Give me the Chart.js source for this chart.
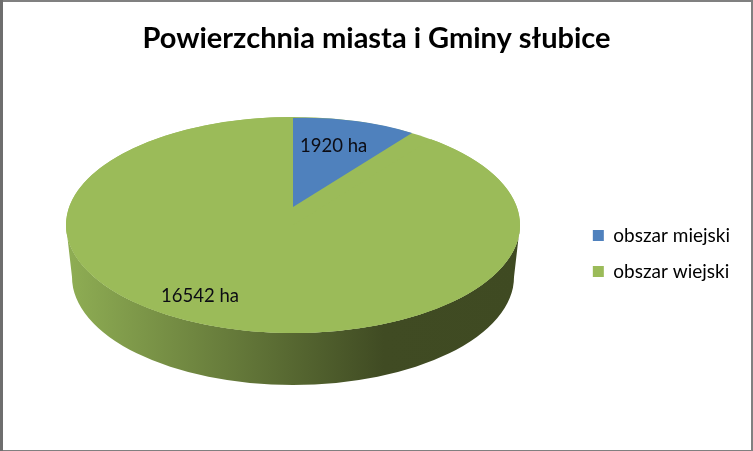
<!DOCTYPE html>
<html>
<head>
<meta charset="utf-8">
<style>html,body{margin:0;padding:0;background:#fff}canvas{display:block}</style>
<script src="https://cdn.jsdelivr.net/npm/chart.js@4"></script>
</head>
<body>
<canvas id="c" width="753" height="451"></canvas>
<script>
const categories = ['obszar miejski', 'obszar wiejski'];
const values = [1920, 16542];
const unit = ' ha';
const colors = ['#4F81BD', '#9BBB59'];
const titleText = 'Powierzchnia miasta i Gminy słubice';

const FONT = 'Lato, Carlito, Calibri, sans-serif';
// Perspective view of the disc, in page pixels
const top3d = {cx: 293, cy: 225, rx: 227, ry: 108};
const bottom3d = {cx: 293, cy: 277, rx: 221, ry: 108};
const apex = {x: 293, y: 207};
const firstTop = {x: 293, y: 118};
const firstEnd = {x: 412, y: 133};
const labelAt = [{x: 300, y: 146}, {x: 161, y: 296}];

function drawMapped(ctx, el, tx, ty, a, b, c, d) {
  const R = el.outerRadius;
  ctx.save();
  ctx.translate(tx, ty);
  ctx.transform(a, b, c, d, 0, 0);
  ctx.scale(1 / R, 1 / R);
  ctx.translate(-el.x, -el.y);
  el.draw(ctx);
  ctx.restore();
}

const pie3d = {
  id: 'pie3d',
  beforeDraw(chart) {
    const {ctx, width, height} = chart;
    ctx.save();
    ctx.fillStyle = '#fff';
    ctx.fillRect(0, 0, width, height);
    ctx.fillStyle = '#808080';
    ctx.fillRect(0, 0, width, 2);
    ctx.fillRect(0, height - 1, width, 1);
    ctx.fillRect(width - 2, 0, 2, height);
    ctx.fillStyle = '#6e6e6e';
    ctx.fillRect(0, 0, 3, height);
    ctx.restore();
  },
  beforeDatasetsDraw(chart) {
    const {ctx} = chart;
    const els = chart.getDatasetMeta(0).data;
    // Wall
    ctx.save();
    const g = ctx.createLinearGradient(top3d.cx - top3d.rx, 0, top3d.cx + top3d.rx, 0);
    g.addColorStop(0, '#8FAE54');
    g.addColorStop(0.70, '#404B23');
    g.addColorStop(1, '#3F4A22');
    ctx.fillStyle = g;
    ctx.beginPath();
    ctx.ellipse(top3d.cx, top3d.cy, top3d.rx, top3d.ry, 0, Math.PI, 0, true);
    ctx.lineTo(bottom3d.cx + bottom3d.rx, bottom3d.cy);
    ctx.ellipse(bottom3d.cx, bottom3d.cy, bottom3d.rx, bottom3d.ry, 0, 0, Math.PI, false);
    ctx.closePath();
    ctx.fill();
    // Top face base
    ctx.fillStyle = colors[1];
    ctx.beginPath();
    ctx.ellipse(top3d.cx, top3d.cy, top3d.rx, top3d.ry, 0, 0, Math.PI * 2);
    ctx.fill();
    ctx.restore();
    // Large slice on the disc's own ellipse
    drawMapped(ctx, els[1], top3d.cx, top3d.cy, top3d.rx, 0, 0, top3d.ry);
    // Small slice, fanned out of the perspective apex
    const e = els[0];
    const X = Math.cos(e.endAngle), Y = Math.sin(e.endAngle);
    const c = 0, d = apex.y - firstTop.y;
    const a = (firstEnd.x - apex.x - Y * c) / X;
    const b = (firstEnd.y - apex.y - Y * d) / X;
    drawMapped(ctx, e, apex.x, apex.y, a, b, c, d);
    // Slice labels
    ctx.save();
    ctx.font = '18.5px ' + FONT;
    ctx.fillStyle = '#0c0c14';
    ctx.textAlign = 'left';
    ctx.textBaseline = 'middle';
    values.forEach((v, i) => ctx.fillText(v + unit, labelAt[i].x, labelAt[i].y));
    ctx.restore();
    return false;
  }
};

new Chart(document.getElementById('c'), {
  type: 'pie',
  data: {
    labels: categories,
    datasets: [{data: values, backgroundColor: colors, borderWidth: 0, hoverOffset: 0}]
  },
  options: {
    responsive: false,
    animation: false,
    events: [],
    layout: {padding: {top: 21, right: 13, bottom: 0, left: 13}},
    plugins: {
      tooltip: {enabled: false},
      title: {
        display: true,
        text: titleText,
        color: '#000',
        font: {family: FONT, size: 29, weight: 'bold'},
        padding: {top: 0, bottom: 0}
      },
      legend: {
        position: 'right',
        fullSize: false,
        labels: {
          color: '#000',
          font: {family: FONT, size: 19},
          boxWidth: 11,
          boxHeight: 11,
          padding: 17
        }
      }
    }
  },
  plugins: [pie3d]
});
</script>
</body>
</html>
